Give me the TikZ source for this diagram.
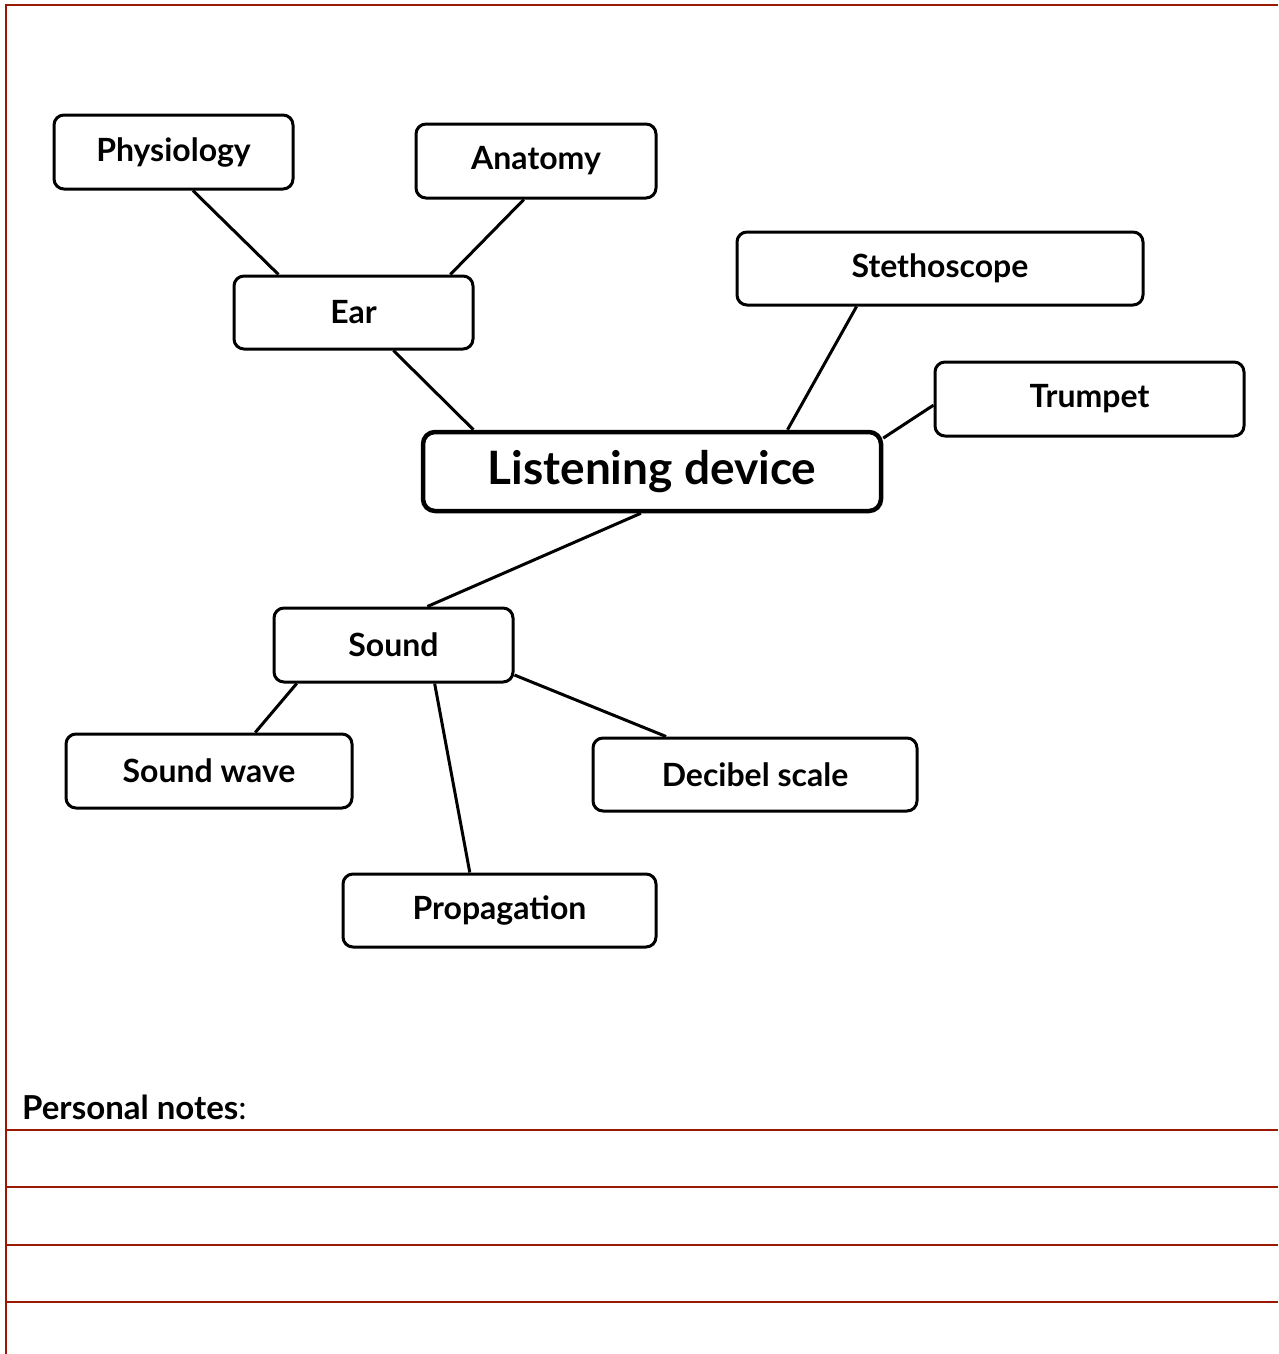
\documentclass[tikz,border=0pt]{standalone}
\usepackage{fontspec}
\setmainfont{Lato}
\usetikzlibrary{calc}
\definecolor{rule}{HTML}{991A00}
\tikzset{
  box/.style={draw=black, line width=3pt, rounded corners=10pt, fill=white, inner sep=0pt,
    font=\fontsize{32}{36}\selectfont\bfseries},
  mainbox/.style={box, line width=4.5pt, rounded corners=12pt, font=\fontsize{46}{50}\selectfont\bfseries},
  link/.style={draw=black, line width=3pt},
  redline/.style={draw=rule, line width=2pt}
}
\begin{document}
\begin{tikzpicture}[x=1pt,y=-1pt]
\useasboundingbox (0,0) rectangle (1278,1354);
% page rules
\draw[redline] (6,1354) -- (6,5) -- (1278,5);
\foreach \yy in {1130,1187,1245,1302} \draw[redline] (6,\yy) -- (1278,\yy);
\node[anchor=base west, inner sep=0pt, font=\fontsize{33}{36}\selectfont] (notes) at (22,1119) {\textbf{Personal notes}:};
% nodes
\node[box, minimum width=239pt, minimum height=74pt] (phys) at (173.5,152) {Physiology};
\node[box, minimum width=240pt, minimum height=74pt] (anat) at (536,161) {Anatomy};
\node[box, minimum width=239pt, minimum height=73pt] (ear) at (353.5,312.5) {Ear};
\node[box, minimum width=406pt, minimum height=73pt] (steth) at (940,268.5) {Stethoscope};
\node[box, minimum width=309pt, minimum height=74pt] (trump) at (1089.5,399) {Trumpet};
\node[mainbox, minimum width=458pt, minimum height=79pt] (ld) at (652,471.5) {Listening device};
\node[box, minimum width=239pt, minimum height=74pt] (sound) at (393.5,645) {Sound};
\node[box, minimum width=286pt, minimum height=74pt] (wave) at (209,771) {Sound wave};
\node[box, minimum width=324pt, minimum height=73pt] (deci) at (755,774.5) {Decibel scale};
\node[box, minimum width=313pt, minimum height=73pt] (prop) at (499.5,910.5) {Propagation};
% connectors
\draw[link] ($(phys.south west)!0.58!(phys.south east)$) -- ($(ear.north west)!0.19!(ear.north east)$);
\draw[link] ($(anat.south west)!0.45!(anat.south east)$) -- ($(ear.north west)!0.90!(ear.north east)$);
\draw[link] ($(ear.south west)!0.665!(ear.south east)$) -- ($(ld.north west)!0.114!(ld.north east)$);
\draw[link] ($(steth.south west)!0.296!(steth.south east)$) -- ($(ld.north west)!0.793!(ld.north east)$);
\draw[link] ($(trump.north west)!0.58!(trump.south west)$) -- ($(ld.north east)!0.10!(ld.south east)$);
\draw[link] ($(ld.south west)!0.476!(ld.south east)$) -- ($(sound.north west)!0.64!(sound.north east)$);
\draw[link] ($(sound.south west)!0.10!(sound.south east)$) -- ($(wave.north west)!0.66!(wave.north east)$);
\draw[link] ($(sound.south west)!0.67!(sound.south east)$) -- ($(prop.north west)!0.406!(prop.north east)$);
\draw[link] ($(sound.north east)!0.89!(sound.south east)$) -- ($(deci.north west)!0.228!(deci.north east)$);
\end{tikzpicture}
\end{document}
